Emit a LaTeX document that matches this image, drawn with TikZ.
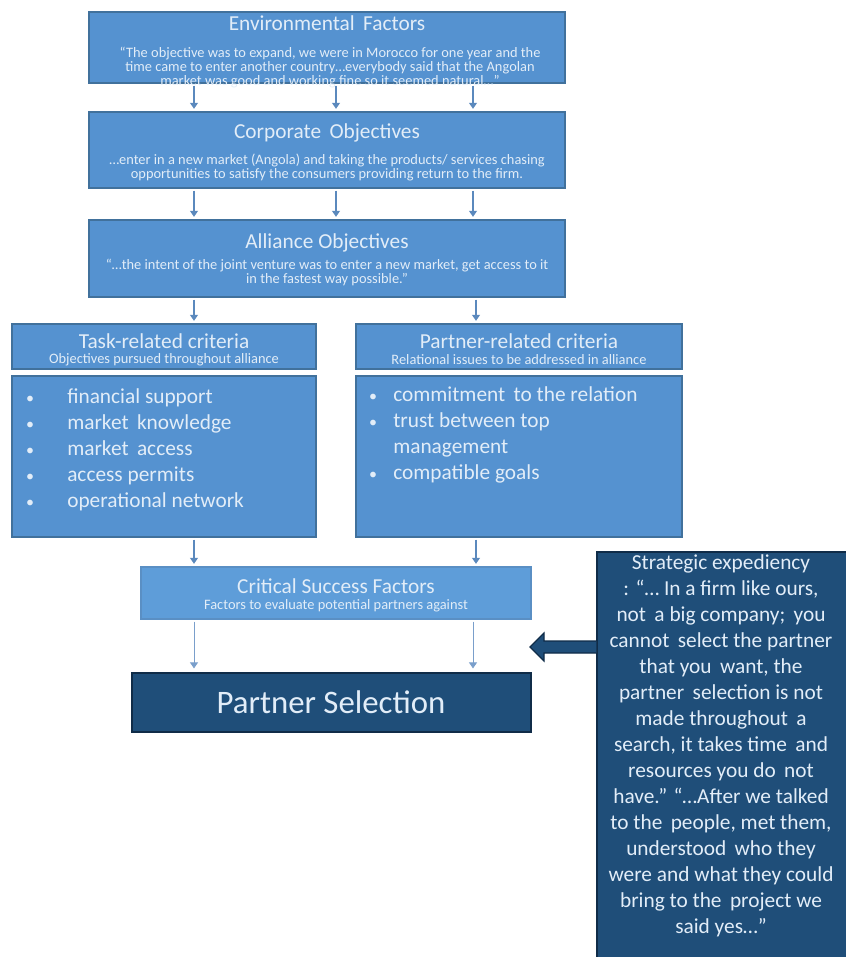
\documentclass[tikz,border=0pt]{standalone}
\usepackage{fontspec}
\setmainfont{Carlito}
\usetikzlibrary{arrows.meta,fit}
\definecolor{midblue}{HTML}{5592D0}
\definecolor{midedge}{HTML}{41719C}
\definecolor{csfblue}{HTML}{5E9DD9}
\definecolor{csfedge}{HTML}{5A8FC4}
\definecolor{navy}{HTML}{1F4E79}
\definecolor{navyedge}{HTML}{102C48}
\definecolor{paletext}{HTML}{E2EDF8}
\definecolor{arrowblue}{HTML}{5B89BD}
\definecolor{thinblue}{HTML}{7A9FCB}
\begin{document}
\begin{tikzpicture}[x=0.75pt,y=-0.75pt,
  box/.style={draw=midedge,fill=midblue,line width=0.8pt,inner sep=0pt},
  csfbox/.style={draw=csfedge,fill=csfblue,line width=0.8pt,inner sep=0pt},
  navybox/.style={draw=navyedge,fill=navy,line width=0.9pt,inner sep=0pt},
  title/.style={text=paletext,inner sep=0pt,font=\fontsize{16}{19}\selectfont},
  quote/.style={text=paletext,inner sep=0pt,align=center,font=\fontsize{10.8}{10.6}\selectfont},
  bullets/.style={text=paletext,inner sep=0pt,align=left,font=\fontsize{16}{19.5}\selectfont},
  dots/.style={text=paletext,inner sep=0pt,align=center,font=\fontsize{12}{19.5}\selectfont},
  flow/.style={draw=arrowblue,line width=0.8pt,-{Triangle[width=6pt,length=4.5pt]},shorten >=2pt,shorten <=1.5pt},
  thinflow/.style={flow,draw=thinblue,line width=0.6pt,shorten >=3pt},
  bigarrow/.style={draw=navyedge,fill=navy,line width=0.9pt,line join=miter}]
\useasboundingbox (0,0) rectangle (846,957);

% column positions of the connectors
\coordinate (xa) at (194,0);
\coordinate (xb) at (336,0);
\coordinate (xc) at (473,0);
\coordinate (xd) at (476,0);

% stacked objective boxes
\node[box,fit={(89,12)(565,83)}] (env) {};
\node[box,fit={(89,112)(565,188)}] (corp) {};
\node[box,fit={(89,220)(565,297)}] (alli) {};

\node[title] (envT) at (327,23) {Environmental\, Factors};
\node[quote,anchor=north] (envQ) at (330,47) {“The objective was to expand, we were in Morocco for one year and the\\time came to enter another country…everybody said that the Angolan\\market was good and working fine so it seemed natural…”};

\node[title] (corpT) at (327,133) {Corporate\, Objectives};
\node[quote,anchor=north] (corpQ) at (327,154) {…enter in a new market (Angola) and taking the products/ services chasing\\opportunities to satisfy the consumers providing return to the firm.};

\node[title] (alliT) at (327,243) {Alliance Objectives};
\node[quote,anchor=north] (alliQ) at (327,259) {“…the intent of the joint venture was to enter a new market, get access to it\\in the fastest way possible.”};

% criteria headers and lists
\node[box,fit={(12,324)(316,369)}] (taskH) {};
\node[box,fit={(356,324)(682,369)}] (partH) {};
\node[box,fit={(12,376)(316,537)}] (taskB) {};
\node[box,fit={(356,376)(682,537)}] (partB) {};

\node[title] (taskT) at (164,341) {Task-related criteria};
\node[quote] (taskS) at (164,360) {Objectives pursued throughout alliance};
\node[title] (partT) at (519,341) {Partner-related criteria};
\node[quote] (partS) at (519,360) {Relational issues to be addressed in alliance};

\node[dots,anchor=north] (taskDots) at (30,385) {\strut•\\\strut•\\\strut•\\\strut•\\\strut•};
\node[bullets,anchor=north west] (taskL) at (67,385) {\strut financial support\\\strut market\, knowledge\\\strut market\, access\\\strut access permits\\\strut operational network};

\node[dots,anchor=north] (partDots) at (373,383) {\strut•\\\strut•\\\strut\\\strut•};
\node[bullets,anchor=north west] (partL) at (393,383) {\strut commitment\, to the relation\\\strut trust between top\\\strut management\\\strut compatible goals};

% critical success factors and the outcome
\node[csfbox,fit={(141,567)(531,619)}] (csf) {};
\node[title] (csfT) at (336,586) {Critical Success Factors};
\node[quote] (csfS) at (336,606) {Factors to evaluate potential partners against};

\node[navybox,fit={(132,673)(531,732)}] (sel) {};
\node[text=paletext,inner sep=0pt,font=\fontsize{24.6}{28}\selectfont] (selT) at (331,702) {Partner Selection};

% strategic expediency note
\node[navybox,fit={(597,552)(850,962)}] (strat) {};
\node[text=paletext,inner sep=0pt,align=center,font=\fontsize{16}{19.5}\selectfont,anchor=north] (stratT) at (721,551) {\strut Strategic expediency\\\strut : “… In a firm like ours,\\\strut not\, a big company;\, you\\\strut cannot\, select the partner\\\strut that you\, want, the\\\strut partner\, selection is not\\\strut made throughout\, a\\\strut search, it takes time\, and\\\strut resources you do\, not\\\strut have.” “…After we talked\\\strut to the\, people, met them,\\\strut understood\, who they\\\strut were and what they could\\\strut bring to the\, project we\\\strut said yes…”};

% connectors
\foreach \c in {xa,xb,xc} {
  \draw[flow] (env.south -| \c) -- (corp.north -| \c);
  \draw[flow] (corp.south -| \c) -- (alli.north -| \c);
}
\draw[flow] (alli.south -| xa) -- (taskH.north -| xa);
\draw[flow] (alli.south -| xd) -- (partH.north -| xd);
\draw[flow] (taskB.south -| xa) -- (csf.north -| xa);
\draw[flow] (partB.south -| xd) -- (csf.north -| xd);
\draw[thinflow] (csf.south -| xa) -- (sel.north -| xa);
\draw[thinflow] (csf.south -| xc) -- (sel.north -| xc);

% block arrow from the note towards the selection
\coordinate (tip) at (530,647);
\draw[bigarrow] (strat.west |- 0,641) -- (544,641) -- (544,633) -- (tip) -- (544,661) -- (544,653) -- (strat.west |- 0,653);
\end{tikzpicture}
\end{document}
